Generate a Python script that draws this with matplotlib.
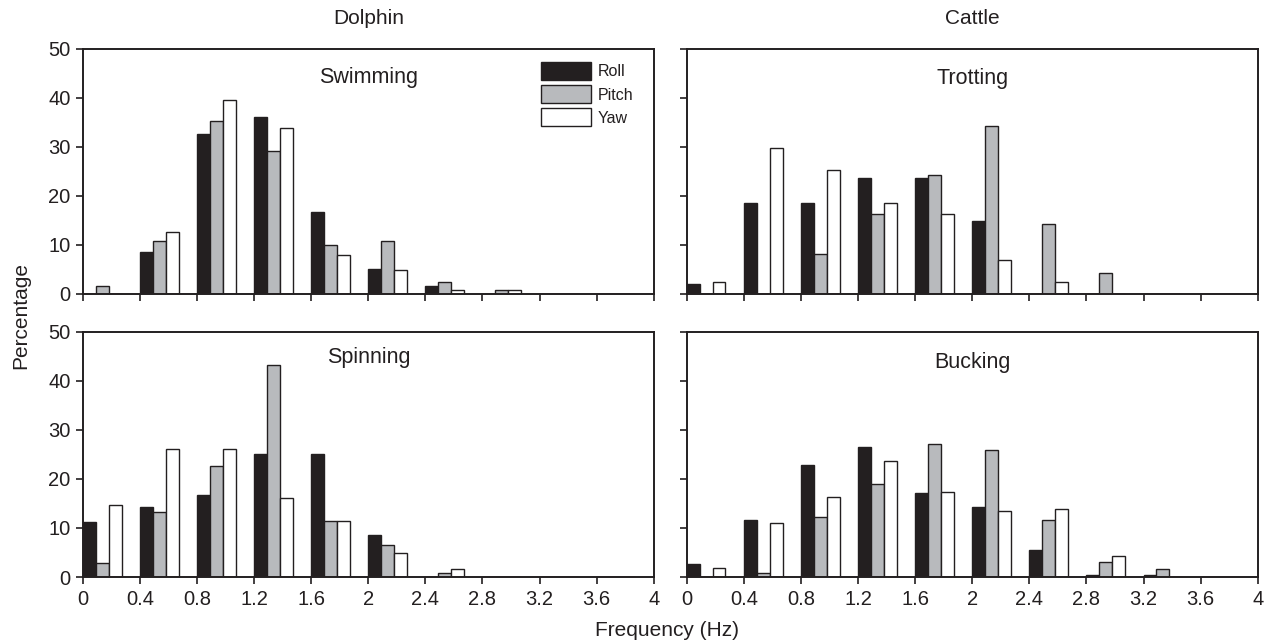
import matplotlib

matplotlib.use("Agg")
import matplotlib.pyplot as plt
import numpy as np

plt.rcParams["font.family"] = ["Liberation Sans", "DejaVu Sans"]

INK = "#231f20"
COLORS = {"Roll": INK, "Pitch": "#b8babd", "Yaw": "white"}

bins = [0.0, 0.4, 0.8, 1.2, 1.6, 2.0, 2.4, 2.8, 3.2, 3.6]
ticks = [0, 0.4, 0.8, 1.2, 1.6, 2, 2.4, 2.8, 3.2, 3.6, 4]
columns = ["Dolphin", "Cattle"]

swimming_roll = [0, 8.6, 32.7, 36.1, 16.7, 5.1, 1.6, 0, 0, 0]
swimming_pitch = [1.6, 10.8, 35.3, 29.1, 9.9, 10.8, 2.4, 0.9, 0, 0]
swimming_yaw = [0, 12.6, 39.5, 33.9, 8.0, 4.8, 0.9, 0.9, 0, 0]

trotting_roll = [2.0, 18.5, 18.5, 23.7, 23.7, 14.8, 0, 0, 0, 0]
trotting_pitch = [0, 0, 8.1, 16.3, 24.3, 34.3, 14.3, 4.2, 0, 0]
trotting_yaw = [2.4, 29.8, 25.2, 18.5, 16.3, 6.9, 2.4, 0, 0, 0]

spinning_roll = [11.3, 14.2, 16.8, 25.1, 25.1, 8.5, 0, 0, 0, 0]
spinning_pitch = [2.8, 13.2, 22.6, 43.2, 11.4, 6.6, 0.9, 0, 0, 0]
spinning_yaw = [14.6, 26.0, 26.0, 16.2, 11.4, 4.8, 1.7, 0, 0, 0]

bucking_roll = [2.7, 11.6, 22.8, 26.6, 17.2, 14.2, 5.5, 0.5, 0.5, 0]
bucking_pitch = [0, 0.75, 12.3, 19.0, 27.1, 25.8, 11.7, 3.0, 1.6, 0]
bucking_yaw = [1.8, 11.1, 16.3, 23.6, 17.4, 13.5, 13.8, 4.2, 0, 0]

panels = [
    ("Swimming", swimming_roll, swimming_pitch, swimming_yaw),
    ("Trotting", trotting_roll, trotting_pitch, trotting_yaw),
    ("Spinning", spinning_roll, spinning_pitch, spinning_yaw),
    ("Bucking", bucking_roll, bucking_pitch, bucking_yaw),
]

# axes boxes in figure fractions: [left, bottom, width, height]
left_x, right_x, col_w = 0.0653, 0.5405, 0.4490
top_y, bot_y, row_h = 0.5428, 0.1026, 0.3815
boxes = [
    [left_x, top_y, col_w, row_h],
    [right_x, top_y, col_w, row_h],
    [left_x, bot_y, col_w, row_h],
    [right_x, bot_y, col_w, row_h],
]
title_y = [0.883, 0.88, 0.896, 0.875]


def draw_panel(ax, name, roll, pitch, yaw, idx):
    width = 0.09
    x = np.array(bins)
    for k, (label, vals) in enumerate(
        [("Roll", roll), ("Pitch", pitch), ("Yaw", yaw)]
    ):
        ax.bar(
            x + k * width,
            vals,
            width=width,
            align="edge",
            color=COLORS[label],
            edgecolor=INK,
            linewidth=1.0,
            label=label,
        )

    ax.set_xlim(0, 4)
    ax.set_ylim(0, 50)
    ax.set_xticks(ticks)
    ax.set_yticks(range(0, 51, 10))
    ax.set_xticklabels([f"{t:g}" for t in ticks])
    ax.tick_params(
        direction="out", length=5, width=1.2, colors=INK, labelsize=14.5, pad=4
    )
    if idx % 2 == 1:
        ax.tick_params(labelleft=False)
    if idx < 2:
        ax.tick_params(labelbottom=False)
    for spine in ax.spines.values():
        spine.set_color(INK)
        spine.set_linewidth(1.4)

    ax.text(
        0.5, title_y[idx], name, transform=ax.transAxes,
        ha="center", va="center", fontsize=15.5, color=INK,
    )


fig = plt.figure(figsize=(12.71, 6.43), dpi=100)
axes = []
for idx, (name, roll, pitch, yaw) in enumerate(panels):
    ax = fig.add_axes(boxes[idx])
    draw_panel(ax, name, roll, pitch, yaw, idx)
    axes.append(ax)

leg = axes[0].legend(
    loc="upper left",
    bbox_to_anchor=(0.803, 0.945),
    frameon=False,
    fontsize=11.5,
    handlelength=3.1,
    handleheight=1.35,
    handletextpad=0.45,
    labelspacing=0.32,
    borderpad=0,
    borderaxespad=0,
)
for text in leg.get_texts():
    text.set_color(INK)

for col, name in enumerate(columns):
    x0 = boxes[col][0] + col_w / 2
    fig.text(x0, 0.971, name, ha="center", va="center", fontsize=15, color=INK)

fig.text(0.525, 0.02, "Frequency (Hz)", ha="center", va="center",
         fontsize=15, color=INK)
fig.text(0.016, 0.51, "Percentage", ha="center", va="center",
         rotation=90, fontsize=15, color=INK)

fig.savefig("out.png", dpi=100)
